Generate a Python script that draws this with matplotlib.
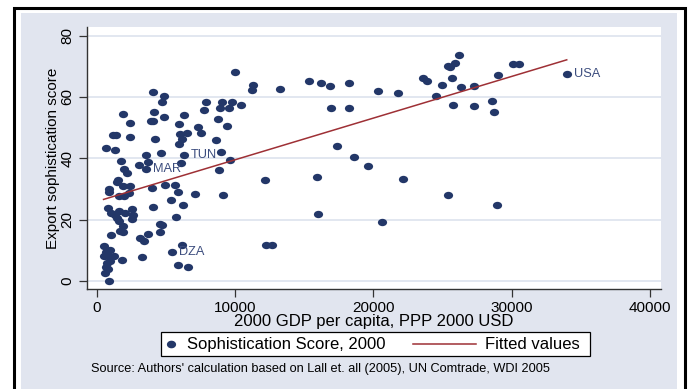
import matplotlib
matplotlib.use("Agg")
import matplotlib.pyplot as plt
from matplotlib.patches import Rectangle
from matplotlib.lines import Line2D
from matplotlib.path import Path
from matplotlib.transforms import Affine2D

plt.rcParams['font.family'] = ['Liberation Sans', 'DejaVu Sans']

# GDP per capita (PPP 2000 USD) and export sophistication score, 2000
gdp = [690, 1128, 1374, 1323, 1706, 1923, 2140, 1489, 1880, 2408,
       2408, 3008, 3543, 3564, 3687, 4020, 3890, 4070, 4121, 4215,
       4598, 4700, 4815, 4866, 5900, 6290, 6023, 6146, 5900, 6529,
       6261, 6073, 7302, 7541, 7707, 7902, 8625, 8770, 8915, 9038,
       8965, 8792, 9421, 9544, 9761, 9638, 10021, 10411, 11279, 11250,
       12168, 13231, 15371, 15928, 16195, 16889, 16962, 17395, 18220, 18220,
       1446, 1851, 2408, 889, 839, 1562, 1974, 2335, 3977, 4938,
       5639, 5878, 7107, 9110, 5350, 6218, 766, 1034, 1612, 1995,
       2502, 2574, 2502, 4070, 1301, 1417, 1562, 1880, 5683, 4526,
       4721, 1012, 1685, 1880, 4577, 3658, 3131, 3369, 477, 962,
       672, 528, 766, 1200, 5444, 6146, 3254, 962, 723, 1779,
       672, 795, 600, 5827, 6579, 889, 12219, 12696, 15978,
       20316, 21762, 23591, 23859, 24531, 24987, 25421, 25544, 25905, 26216,
       25710, 26339, 27279, 25782, 27279, 28602, 28746, 29014, 30120, 30554,
       33981, 18581, 19615, 22124, 25399, 28920, 20606]
score = [43.2, 47.7, 47.7, 42.6, 39.2, 36.5, 35.2, 32.9, 54.5, 51.5,
         47.1, 37.7, 36.6, 41.0, 38.9, 61.6, 52.3, 52.3, 55.0, 46.3,
         41.7, 58.5, 60.4, 53.5, 51.1, 54.0, 47.8, 46.3, 44.8, 48.4,
         41.1, 38.4, 50.3, 48.4, 55.7, 58.2, 45.9, 52.8, 56.5, 58.4,
         42.1, 36.3, 50.6, 56.5, 58.3, 39.4, 68.1, 57.3, 63.8, 62.4,
         32.9, 62.6, 65.3, 34.0, 64.4, 63.7, 56.5, 44.1, 64.6, 56.4,
         32.4, 31.1, 31.1, 30.0, 29.0, 27.7, 27.7, 28.6, 30.2, 31.4,
         31.4, 29.1, 28.5, 28.1, 26.3, 24.7, 23.7, 22.3, 22.8, 22.3,
         23.6, 21.6, 20.3, 24.0, 21.4, 20.6, 19.6, 18.0, 21.0, 18.6,
         18.4, 15.0, 16.3, 16.0, 15.9, 15.2, 14.1, 13.0, 11.4, 10.1,
         9.6, 8.2, 8.2, 8.2, 9.5, 11.8, 7.9, 6.6, 6.0, 6.8,
         4.7, 4.0, 2.7, 5.2, 4.7, 0.0, 11.6, 11.6, 21.8,
         62.1, 61.3, 66.2, 65.1, 60.4, 63.9, 70.1, 69.6, 71.0, 73.6,
         66.3, 63.3, 63.6, 57.4, 57.1, 58.7, 55.0, 67.3, 70.9, 70.9,
         67.4, 40.3, 37.4, 33.3, 28.0, 24.7, 19.2]

# labelled countries
label_names = ["TUN", "MAR", "DZA", "USA"]
label_gdp = [6261, 3543, 5444, 33981]
label_score = [41.1, 36.6, 9.5, 67.4]

# linear fit, end points
fit_gdp = [477, 33981]
fit_score = [26.6, 72.1]

navy = "#233768"
maroon = "#9e3035"
panel = "#e1e5ef"
grid = "#dde3ed"

W, H = 693, 389
fig = plt.figure(figsize=(W / 100, H / 100), dpi=100)
fig.patch.set_facecolor("white")


def fx(px):
    return px / W


def fy(py):
    return 1 - py / H


# graph region and outer frame
fig.patches.append(Rectangle((fx(21), 0), fx(677) - fx(21), fy(12.7),
                             transform=fig.transFigure, facecolor=panel,
                             edgecolor="none", zorder=-1))
fig.patches.append(Rectangle((fx(13.5), -0.05), fx(684.5) - fx(13.5), fy(7.5) + 0.05,
                             transform=fig.transFigure, facecolor="none",
                             edgecolor="black", linewidth=2.2, zorder=1))

ax = fig.add_axes([fx(87), fy(289), fx(661) - fx(87), fy(27) - fy(289)])
ax.set_facecolor("white")
ax.set_xlim(-720, 40800)
ax.set_ylim(-2.6, 82.8)

ax.set_yticks([0, 20, 40, 60, 80])
ax.set_xticks([0, 10000, 20000, 30000, 40000])
ax.yaxis.grid(True, color=grid, linewidth=1.2)
ax.set_axisbelow(True)
for s in ["top", "right"]:
    ax.spines[s].set_visible(False)
for s in ["left", "bottom"]:
    ax.spines[s].set_color("#333333")
    ax.spines[s].set_linewidth(1.0)
ax.tick_params(axis="both", length=6, width=0.9, color="#333333",
               labelsize=11, labelcolor="black", pad=3)
for t in ax.get_yticklabels():
    t.set_rotation(90)
    t.set_va("center")

ax.set_xlabel("2000 GDP per capita, PPP 2000 USD", fontsize=12, labelpad=-1)
ax.set_ylabel("Export sophistication score", fontsize=11, labelpad=0)

ellipse = Affine2D().scale(1.25, 1).transform_path(Path.unit_circle())
ax.scatter(gdp, score, s=44, marker=ellipse, color=navy, linewidths=0, zorder=3)
ax.plot(fit_gdp, fit_score, color=maroon, linewidth=1.1, zorder=4)

for name, x, y in zip(label_names, label_gdp, label_score):
    ax.annotate(name, (x, y), xytext=(5, 0), textcoords="offset points",
                va="center", ha="left", fontsize=9.2, color="#3c4d7e", zorder=5)

# legend box
fig.patches.append(Rectangle((fx(161), fy(356)), fx(590) - fx(161), fy(332) - fy(356),
                             transform=fig.transFigure, facecolor="white",
                             edgecolor="black", linewidth=0.9, zorder=2))
fig.lines.append(Line2D([fx(171)], [fy(344)], transform=fig.transFigure,
                        marker=ellipse, markersize=5.6, color=navy,
                        linestyle="none", zorder=3))
fig.text(fx(187), fy(344.5), "Sophistication Score, 2000", fontsize=12,
         va="center", ha="left", zorder=3)
fig.lines.append(Line2D([fx(413), fx(476)], [fy(344), fy(344)],
                        transform=fig.transFigure, color=maroon,
                        linewidth=1.1, zorder=3))
fig.text(fx(485), fy(344.5), "Fitted values", fontsize=12,
         va="center", ha="left", zorder=3)

fig.text(fx(91), fy(369), "Source: Authors' calculation based on Lall et. all (2005), "
         "UN Comtrade, WDI 2005", fontsize=9.2, va="center", ha="left")

fig.savefig("out.png", dpi=100, facecolor="white")
